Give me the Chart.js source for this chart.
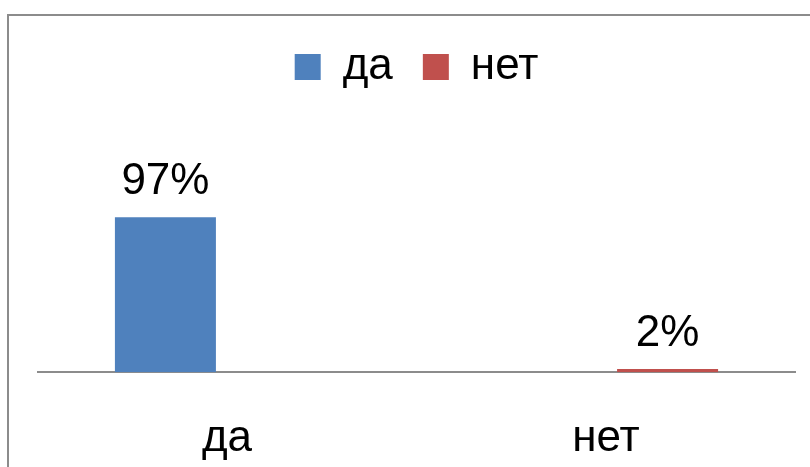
<!DOCTYPE html>
<html>
<head>
<meta charset="utf-8">
<script src="https://cdn.jsdelivr.net/npm/chart.js@4"></script>
<style>
  html, body { margin: 0; padding: 0; overflow: hidden; background: #fff; }
  #frame { position: absolute; left: 7px; top: 14px; width: 900px; height: 600px; border: 2px solid #8c8c8c; pointer-events: none; }
  #wrap { position: absolute; left: 0; top: 0; width: 810px; height: 467px; }
</style>
</head>
<body>
<div id="wrap"><canvas id="chart"></canvas></div>
<div id="frame"></div>
<script>
const categories = ['да', 'нет'];
const seriesNames = ['да', 'нет'];
const daValues = [0.97, null];
const netValues = [null, 0.02];

const FONT = 'Liberation Sans, Arial, sans-serif';

// labels like "97%" above each bar
const valueLabels = {
  id: 'valueLabels',
  afterDatasetsDraw(chart) {
    const ctx = chart.ctx;
    ctx.save();
    ctx.font = '44px ' + FONT;
    ctx.fillStyle = '#000';
    ctx.textAlign = 'center';
    ctx.textBaseline = 'alphabetic';
    chart.data.datasets.forEach((ds, i) => {
      chart.getDatasetMeta(i).data.forEach((bar, j) => {
        const v = ds.data[j];
        if (v === null || v === undefined) return;
        ctx.fillText(Math.round(v * 100) + '%', bar.x, bar.y - 23);
      });
    });
    ctx.restore();
  }
};

const ctx = document.getElementById('chart').getContext('2d');
window.chart = new Chart(ctx, {
  type: 'bar',
  data: {
    labels: categories,
    datasets: [
      { label: seriesNames[0], data: daValues, backgroundColor: '#4f81bd' },
      { label: seriesNames[1], data: netValues, backgroundColor: '#c0504d' }
    ]
  },
  options: {
    responsive: true,
    maintainAspectRatio: false,
    animation: false,
    layout: { padding: { left: 37.5, right: 14.5, top: 15, bottom: -38 } },
    datasets: {
      bar: { categoryPercentage: 0.65, barPercentage: 0.82 }
    },
    plugins: {
      legend: {
        position: 'top',
        labels: {
          boxWidth: 26,
          boxHeight: 26,
          padding: 30,
          color: '#000',
          font: { size: 44, family: FONT }
        }
      },
      tooltip: { enabled: false }
    },
    scales: {
      x: {
        grid: { display: false, drawTicks: false },
        border: { display: true, color: '#8c8c8c', width: 2 },
        ticks: { color: '#000', padding: 40, font: { size: 44, family: FONT } }
      },
      y: {
        display: false,
        min: 0,
        max: 1.71
      }
    }
  },
  plugins: [valueLabels]
});
</script>
</body>
</html>
